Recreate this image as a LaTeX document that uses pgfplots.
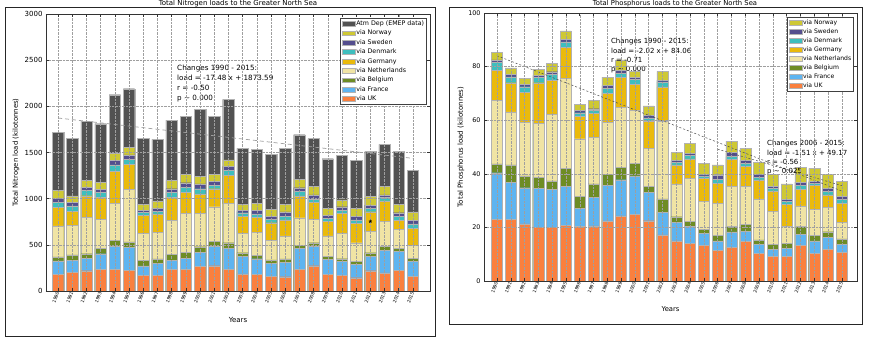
\documentclass[border=0pt]{standalone}
\usepackage{pgfplots}
\pgfplotsset{compat=1.18}
\usepackage{pgfplotstable}
\usepackage{fontspec}
\setmainfont{DejaVu Sans}

\definecolor{cUK}{RGB}{250,128,62}
\definecolor{cFR}{RGB}{94,180,240}
\definecolor{cBE}{RGB}{110,140,36}
\definecolor{cNL}{RGB}{240,228,164}
\definecolor{cDE}{RGB}{234,186,12}
\definecolor{cDK}{RGB}{62,190,190}
\definecolor{cSE}{RGB}{84,78,142}
\definecolor{cNO}{RGB}{206,200,52}
\definecolor{cAT}{RGB}{82,82,82}

% cumulative heights (top of each segment), kilotonnes
\pgfplotstableread{
year uk fr be nl de dk se no atm
1990 182 326 370 706 904 960 1000 1087 1720
1991 199 329 390 708 866 921 957 1029 1657
1992 220 354 404 801 1032 1087 1123 1202 1841
1993 238 404 462 773 1011 1065 1101 1177 1812
1994 238 487 552 949 1296 1365 1412 1491 2126
1995 224 473 531 1101 1375 1426 1473 1556 2191
1996 173 271 329 621 816 852 877 942 1650
1997 166 300 347 632 834 866 895 975 1643
1998 235 329 397 765 1014 1065 1108 1195 1852
1999 235 354 419 838 1072 1123 1173 1260 1895
2000 264 419 480 841 1051 1108 1159 1245 1968
2001 274 487 538 913 1108 1144 1188 1267 1892
2002 235 462 523 946 1256 1310 1350 1419 2076
2003 185 379 415 625 812 848 870 935 1545
2004 177 350 383 632 798 834 877 953 1534
2005 162 300 336 552 740 776 812 888 1477
2006 155 310 347 596 769 812 856 942 1545
2007 235 462 498 794 1029 1076 1119 1213 1693
2008 274 487 523 776 957 996 1040 1130 1650
2009 180 343 379 596 751 787 823 895 1433
2010 170 318 350 625 841 877 913 986 1469
2011 144 289 318 523 733 769 805 895 1415
2012 220 379 415 643 859 895 931 1022 1509
2013 195 444 487 751 975 1011 1040 1130 1588
2014 227 433 462 668 762 812 848 939 1509
2015 159 318 354 498 679 726 762 856 1307
}\ntab

\pgfplotstableread{
year uk fr be nl de dk se no
1990 23.0 40.4 43.7 67.4 78.7 81.5 82.5 85.3
1991 23.0 36.9 43.3 63.1 74.0 76.2 77.1 79.5
1992 21.3 34.8 39.2 59.2 70.5 72.5 73.3 75.6
1993 20.0 34.5 38.6 58.8 74.0 76.0 76.7 79.1
1994 20.0 34.2 37.4 62.2 74.8 77.1 78.1 81.1
1995 20.8 35.4 42.0 75.6 87.1 89.2 90.2 93.3
1996 20.3 27.0 31.5 53.1 61.4 62.8 63.6 66.0
1997 20.6 31.2 36.2 53.7 62.6 63.6 64.3 67.4
1998 22.4 35.6 39.9 59.2 70.0 71.8 72.9 76.1
1999 24.3 37.8 42.3 64.7 75.9 77.6 78.7 82.5
2000 25.0 39.2 43.9 63.8 73.4 75.2 76.0 78.2
2001 22.5 33.0 35.2 49.6 59.5 60.9 61.7 65.3
2002 17.2 25.7 30.6 59.7 72.4 74.3 75.0 78.2
2003 15.0 22.0 24.0 36.2 43.3 44.2 44.9 47.9
2004 14.1 20.5 22.3 38.4 45.6 47.0 47.6 51.4
2005 13.3 17.8 19.3 29.6 38.2 39.2 39.9 43.9
2006 11.4 15.0 17.0 29.0 36.4 37.9 39.6 43.3
2007 12.6 18.3 20.3 35.2 45.4 46.4 47.9 52.2
2008 14.7 18.5 21.1 35.2 42.7 43.9 45.1 49.5
2009 10.3 13.7 15.3 30.6 37.7 38.7 39.7 44.2
2010 9.1 11.8 13.8 25.9 33.6 34.6 35.4 39.8
2011 9.3 12.1 14.1 20.5 28.6 29.6 30.5 36.2
2012 13.3 17.3 20.3 28.0 34.2 35.8 36.9 42.3
2013 10.3 15.0 17.0 26.7 35.8 36.4 37.1 42.0
2014 11.8 16.3 18.4 27.4 32.1 33.5 34.6 39.9
2015 10.6 13.6 15.7 21.8 29.0 30.5 31.6 37.1
}\ptab

\pgfplotsset{
  mybar/.style={ybar, bar width=0.8, bar shift=0pt, fill=#1, draw=gray!60, line width=0.35pt,
    legend image code/.code={\path[draw=gray!60, line width=0.35pt, fill=#1] (0pt,-2.4pt) rectangle (13pt,2.4pt);}},
  common/.style={
    scale only axis, anchor=south west,
    xtick={1990,...,2015},
    tick align=inside, major tick length=3pt,
    grid=major, grid style={densely dotted, gray!75, line width=0.4pt},
    axis on top,
    axis line style={black!80, line width=0.8pt},
    tick style={black!80, line width=0.5pt},
    /pgf/number format/assume math mode=true,
    /pgf/number format/1000 sep={},
    xticklabel style={font=\fontsize{4.6}{5}\selectfont, rotate=70, anchor=east, inner sep=0.8pt},
    legend cell align=left,
  }
}

\begin{document}
\begin{tikzpicture}
\useasboundingbox (0,0) rectangle (876pt,346pt);
\fill[white] (0,0) rectangle (876pt,346pt);
\clip (0,0) rectangle (876pt,346pt);
\draw[black!85, line width=0.8pt] (5pt,10pt) rectangle (435pt,338.6pt);
\draw[black!85, line width=0.8pt] (449pt,22pt) rectangle (862pt,338.6pt);
\node[anchor=base, inner sep=0pt, font=\fontsize{7}{8}\selectfont] at (238pt,340.4pt) {Total Nitrogen loads to the Greater North Sea};
\node[anchor=base, inner sep=0pt, font=\fontsize{6.8}{8}\selectfont] at (675pt,340.5pt) {Total Phosphorus loads to the Greater North Sea};

% ---------------- Nitrogen ----------------
\begin{axis}[common,
  at={(46pt,55pt)}, width=384pt, height=277pt,
  xmin=1989.15, xmax=2016.2, ymin=0, ymax=3000,
  ytick={0,500,...,3000},
  yticklabel style={font=\fontsize{7}{8}\selectfont},
  xlabel={Years}, ylabel={Total Nitrogen load (kilotonnes)},
  every axis x label/.style={at={(axis description cs:0.5,-0.105)}, anchor=center, font=\fontsize{7}{8}\selectfont},
  every axis y label/.style={at={(axis description cs:-0.078,0.5)}, rotate=90, anchor=center, font=\fontsize{6.9}{8}\selectfont},
  legend style={at={(0.992,0.986)}, anchor=north east, font=\fontsize{6.3}{7}\selectfont,
    draw=black!75, line width=0.6pt, inner sep=1.5pt, row sep=1.2pt,
    nodes={inner sep=1pt, text height=4.8pt, text depth=1.4pt}},
]
\addplot[mybar=cAT] table[x=year,y=atm]{\ntab};
\addlegendentry{Atm Dep (EMEP data)}
\addplot[mybar=cNO] table[x=year,y=no]{\ntab};
\addlegendentry{via Norway}
\addplot[mybar=cSE] table[x=year,y=se]{\ntab};
\addlegendentry{via Sweden}
\addplot[mybar=cDK] table[x=year,y=dk]{\ntab};
\addlegendentry{via Denmark}
\addplot[mybar=cDE] table[x=year,y=de]{\ntab};
\addlegendentry{via Germany}
\addplot[mybar=cNL] table[x=year,y=nl]{\ntab};
\addlegendentry{via Netherlands}
\addplot[mybar=cBE] table[x=year,y=be]{\ntab};
\addlegendentry{via Belgium}
\addplot[mybar=cFR] table[x=year,y=fr]{\ntab};
\addlegendentry{via France}
\addplot[mybar=cUK] table[x=year,y=uk]{\ntab};
\addlegendentry{via UK}
\addplot[forget plot, sharp plot, gray!75, line width=0.7pt, dash pattern=on 4pt off 3pt]
  coordinates {(1990,1873.59) (2015,1436.59)};
\addplot[forget plot, only marks, mark=star, mark size=1.6pt, black, line width=0.7pt]
  coordinates {(2012,755)};
\node[anchor=north west, align=left, inner sep=0pt, font=\fontsize{7.2}{9.7}\selectfont]
  at (axis cs:1998.38,2445) {Changes 1990 - 2015:\\load = -17.48 x + 1873.59\\r = -0.50\\p \textasciitilde{} 0.000};
\end{axis}

% ---------------- Phosphorus ----------------
\begin{axis}[common,
  at={(484pt,65pt)}, width=373pt, height=268pt,
  xmin=1989.06, xmax=2016.1, ymin=0, ymax=100,
  ytick={0,20,...,100},
  yticklabel style={font=\fontsize{6.4}{7}\selectfont},
  xlabel={Years}, ylabel={Total Phosphorus load (kilotonnes)},
  every axis x label/.style={at={(axis description cs:0.5,-0.104)}, anchor=center, font=\fontsize{6.8}{8}\selectfont},
  every axis y label/.style={at={(axis description cs:-0.062,0.5)}, rotate=90, anchor=center, font=\fontsize{7}{8}\selectfont},
  legend style={at={(0.992,0.985)}, anchor=north east, font=\fontsize{6.1}{7}\selectfont,
    draw=black!75, line width=0.6pt, inner sep=1.5pt, row sep=1.1pt,
    nodes={inner sep=1pt, text height=4.6pt, text depth=1.3pt}},
]
\addplot[mybar=cNO] table[x=year,y=no]{\ptab};
\addlegendentry{via Norway}
\addplot[mybar=cSE] table[x=year,y=se]{\ptab};
\addlegendentry{via Sweden}
\addplot[mybar=cDK] table[x=year,y=dk]{\ptab};
\addlegendentry{via Denmark}
\addplot[mybar=cDE] table[x=year,y=de]{\ptab};
\addlegendentry{via Germany}
\addplot[mybar=cNL] table[x=year,y=nl]{\ptab};
\addlegendentry{via Netherlands}
\addplot[mybar=cBE] table[x=year,y=be]{\ptab};
\addlegendentry{via Belgium}
\addplot[mybar=cFR] table[x=year,y=fr]{\ptab};
\addlegendentry{via France}
\addplot[mybar=cUK] table[x=year,y=uk]{\ptab};
\addlegendentry{via UK}
\addplot[forget plot, sharp plot, black!70, line width=0.5pt, dash pattern=on 2pt off 2pt]
  coordinates {(1990,84.06) (2015,33.56)};
\addplot[forget plot, sharp plot, black!70, line width=0.5pt, dash pattern=on 2pt off 2pt]
  coordinates {(2006,49.17) (2015,35.58)};
\node[anchor=north west, align=left, inner sep=0pt, font=\fontsize{7}{9.3}\selectfont]
  at (axis cs:1998.26,90.5) {Changes 1990 - 2015:\\load = -2.02 x + 84.06\\r = -0.71\\p \textasciitilde{} 0.000};
\node[anchor=north west, align=left, inner sep=0pt, font=\fontsize{7}{9.3}\selectfont]
  at (axis cs:2009.57,52.5) {Changes 2006 - 2015:\\load = -1.51 x + 49.17\\r = -0.56\\p \textasciitilde{} 0.025};
\end{axis}
\end{tikzpicture}
\end{document}
